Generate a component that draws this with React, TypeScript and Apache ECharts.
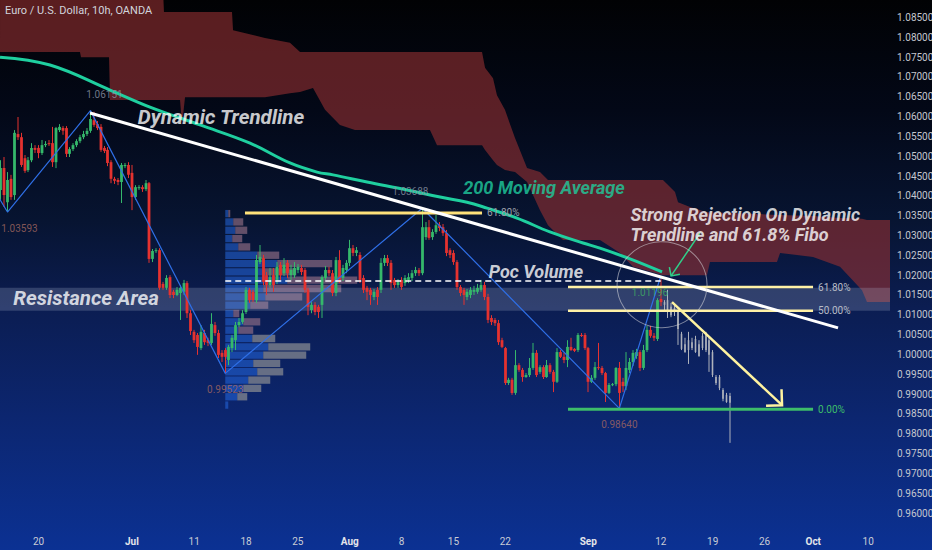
import React, { useEffect, useRef } from 'react';
import * as echarts from 'echarts';

const TITLE = 'Euro / U.S. Dollar, 10h, OANDA';

// Price axis tick labels
const PRICE_TICKS = [0.96, 0.965, 0.97, 0.975, 0.98, 0.985, 0.99, 0.995, 1.0, 1.005, 1.01, 1.015, 1.02, 1.025, 1.03, 1.035, 1.04, 1.045, 1.05, 1.055, 1.06, 1.065, 1.07, 1.075, 1.08, 1.085];

// Time axis: trading days counted from Mon 20 Jun 2022
const DATE_TICK_DAYS = [0, 9, 15, 20, 25, 30, 35, 40, 45, 53, 60, 65, 70, 74.7, 80];
const DATE_TICK_LABELS = ['20', 'Jul', '11', '18', '25', 'Aug', '8', '15', '22', 'Sep', '12', '19', '26', 'Oct', '10'];
const MONTH_LABELS = ['Jul', 'Aug', 'Sep', 'Oct'];

// Candles: [open, close, high, low] in 1/10000 of a dollar
const FIRST_BAR_DAY = -4;
const BARS_PER_DAY = 3;
const GHOST_FROM = 193;
const CANDLES = [
  [10485, 10415, 10503, 10402], [10415, 10470, 10490, 10390], [10470, 10402, 10498, 10372], [10384, 10440, 10460, 10359],
  [10443, 10397, 10453, 10390], [10402, 10559, 10566, 10390], [10556, 10548, 10599, 10541], [10548, 10478, 10559, 10473],
  [10495, 10463, 10503, 10458], [10465, 10490, 10498, 10460], [10490, 10521, 10533, 10485], [10521, 10516, 10528, 10508],
  [10521, 10508, 10528, 10495], [10508, 10528, 10541, 10503], [10528, 10531, 10538, 10523], [10533, 10531, 10541, 10526],
  [10533, 10485, 10574, 10473], [10485, 10571, 10574, 10470], [10566, 10574, 10581, 10561], [10571, 10564, 10576, 10554],
  [10571, 10506, 10576, 10498], [10506, 10518, 10523, 10498], [10518, 10528, 10533, 10513], [10528, 10538, 10543, 10523],
  [10538, 10548, 10554, 10533], [10548, 10556, 10564, 10543], [10556, 10564, 10571, 10551], [10564, 10594, 10615, 10559],
  [10591, 10579, 10612, 10574], [10581, 10571, 10589, 10566], [10574, 10516, 10581, 10511], [10521, 10513, 10526, 10508],
  [10516, 10483, 10523, 10475], [10485, 10443, 10490, 10432], [10443, 10438, 10448, 10430], [10440, 10435, 10445, 10427],
  [10435, 10478, 10483, 10382], [10475, 10478, 10483, 10470], [10478, 10453, 10485, 10445], [10458, 10397, 10478, 10364],
  [10397, 10422, 10427, 10390], [10420, 10422, 10427, 10415], [10422, 10417, 10427, 10410], [10417, 10432, 10440, 10412],
  [10432, 10241, 10435, 10231], [10241, 10261, 10266, 10233], [10261, 10263, 10268, 10256], [10263, 10168, 10268, 10163],
  [10178, 10168, 10183, 10163], [10168, 10193, 10200, 10163], [10195, 10150, 10200, 10142], [10158, 10150, 10163, 10142],
  [10150, 10163, 10170, 10147], [10155, 10168, 10175, 10087], [10158, 10180, 10188, 10150], [10180, 10104, 10185, 10092],
  [10104, 10059, 10112, 10049], [10057, 10036, 10062, 10029], [10049, 10019, 10054, 9999], [10016, 10057, 10074, 10011],
  [10054, 10031, 10062, 10024], [10036, 10029, 10042, 10021], [10029, 10077, 10104, 10024], [10074, 10054, 10082, 10047],
  [10054, 9999, 10062, 9991], [10004, 9994, 10011, 9981], [10011, 9994, 10016, 9952],
  [9986, 10019, 10024, 9973], [10016, 10042, 10049, 10006], [10036, 10074, 10082, 10011], [10074, 10082, 10092, 10069],
  [10082, 10104, 10112, 10077], [10107, 10163, 10170, 10102], [10163, 10137, 10168, 10130], [10158, 10137, 10163, 10132],
  [10137, 10238, 10251, 10130], [10233, 10246, 10276, 10228], [10243, 10183, 10251, 10175], [10200, 10175, 10208, 10150],
  [10175, 10195, 10218, 10168], [10200, 10175, 10218, 10158], [10188, 10221, 10233, 10178], [10226, 10200, 10233, 10188],
  [10205, 10226, 10243, 10198], [10231, 10205, 10238, 10193], [10200, 10213, 10226, 10188], [10200, 10218, 10233, 10193],
  [10213, 10221, 10228, 10205], [10218, 10208, 10226, 10200], [10213, 10163, 10218, 10155], [10163, 10120, 10168, 10099],
  [10112, 10125, 10132, 10104], [10125, 10107, 10132, 10099], [10120, 10107, 10125, 10092], [10125, 10195, 10200, 10092],
  [10193, 10213, 10223, 10188], [10213, 10205, 10221, 10198], [10205, 10155, 10213, 10147], [10155, 10238, 10246, 10147],
  [10238, 10188, 10263, 10180], [10193, 10218, 10226, 10185], [10213, 10231, 10238, 10205], [10231, 10268, 10289, 10223],
  [10268, 10256, 10276, 10248], [10256, 10263, 10271, 10248], [10251, 10188, 10258, 10180], [10193, 10163, 10200, 10155],
  [10168, 10158, 10173, 10137], [10163, 10150, 10168, 10125], [10145, 10158, 10165, 10137], [10163, 10145, 10170, 10125],
  [10163, 10231, 10243, 10155], [10231, 10243, 10251, 10223], [10243, 10231, 10251, 10223], [10231, 10180, 10238, 10163],
  [10188, 10175, 10193, 10168], [10175, 10183, 10190, 10168], [10188, 10170, 10195, 10163], [10180, 10193, 10200, 10173],
  [10188, 10195, 10205, 10180], [10193, 10205, 10213, 10185], [10205, 10213, 10221, 10198], [10213, 10205, 10218, 10198],
  [10205, 10321, 10369, 10200],
  [10296, 10321, 10334, 10289], [10321, 10294, 10339, 10289], [10296, 10309, 10316, 10289], [10309, 10326, 10352, 10304],
  [10326, 10319, 10334, 10311], [10321, 10306, 10329, 10299], [10306, 10256, 10314, 10248], [10263, 10251, 10268, 10243],
  [10256, 10233, 10263, 10226], [10233, 10170, 10238, 10163], [10170, 10155, 10175, 10147], [10163, 10150, 10168, 10125],
  [10145, 10158, 10165, 10137], [10150, 10163, 10170, 10142], [10158, 10163, 10173, 10150], [10158, 10168, 10178, 10153],
  [10163, 10175, 10188, 10158], [10175, 10145, 10183, 10137], [10145, 10087, 10153, 10079], [10092, 10082, 10099, 10074],
  [10087, 10079, 10092, 10072], [10079, 10031, 10087, 10024], [10036, 10019, 10042, 10016], [10016, 9928, 10019, 9923],
  [9928, 9936, 9941, 9923], [9936, 9903, 9941, 9898], [9903, 9973, 10011, 9898], [9973, 9961, 9978, 9956],
  [9961, 9943, 9966, 9931], [9943, 9948, 9953, 9941], [9948, 9966, 9991, 9943], [9966, 10004, 10029, 9961],
  [10004, 9948, 10011, 9943], [9956, 9968, 9973, 9951], [9968, 9943, 9973, 9938], [9943, 9973, 9986, 9941],
  [9973, 9956, 9978, 9951], [9956, 9931, 9961, 9905], [9931, 10006, 10016, 9928], [10006, 9994, 10011, 9991],
  [9994, 9986, 10004, 9978], [9986, 10019, 10036, 9968], [10019, 10011, 10042, 10009], [10014, 10009, 10016, 10006],
  [10011, 10049, 10054, 10006], [10049, 10047, 10054, 10044], [10049, 10016, 10054, 10011], [10016, 9931, 10019, 9905],
  [9931, 9941, 9948, 9928], [9941, 9968, 9981, 9936], [9968, 9966, 10029, 9961], [9966, 9953, 9971, 9948],
  [9953, 9903, 9956, 9880], [9903, 9923, 9928, 9900], [9923, 9925, 9928, 9920], [9925, 9966, 9968, 9920],
  [9966, 9903, 9981, 9864], [9931, 9920, 9941, 9905], [9920, 9966, 10006, 9910],
  [9961, 9981, 9991, 9953], [9981, 10004, 10011, 9971], [9996, 10006, 10014, 9989], [10006, 9966, 10011, 9958],
  [9966, 10011, 10024, 9961], [10011, 10062, 10072, 10006], [10062, 10047, 10072, 10042], [10047, 10042, 10054, 10034],
  [10039, 10137, 10142, 10034], [10140, 10132, 10198, 10122],
  [10132, 10125, 10137, 10107], [10137, 10112, 10163, 10092], [10120, 10099, 10130, 10094], [10117, 10107, 10125, 10097],
  [10107, 10064, 10112, 10024], [10052, 10014, 10057, 10011], [10026, 10006, 10042, 10004], [10011, 10036, 10057, 9976],
  [10031, 10016, 10042, 10011], [10006, 10039, 10047, 10004], [10026, 9996, 10036, 9994], [10016, 10047, 10054, 10011],
  [10049, 10011, 10057, 10006], [10036, 9999, 10044, 9956], [10006, 9948, 10011, 9943], [9943, 9928, 9948, 9923],
  [9943, 9915, 9948, 9910], [9910, 9888, 9915, 9882], [9898, 9880, 9903, 9878], [9895, 9878, 9903, 9777],
];

// Ichimoku cloud (senkou spans), 1/10000 of a dollar
const CLOUD_DAY = [-3.72, 3.99, 4.09, 6.79, 6.89, 12.0, 12.09, 13.64, 13.83, 14.12, 18.65, 18.75, 21.83, 24.24, 25.21, 26.46, 27.62, 29.06, 30.51, 37.74, 38.42, 42.76, 43.05, 43.82, 44.2, 44.97, 45.94, 47.1, 48.35, 49.12, 50.57, 54.13, 56.07, 57.32, 60.21, 61.37, 61.66, 62.82, 64.45, 64.74, 71.2, 71.5, 74.68, 77.28, 79.4, 79.88, 82.1];
const CLOUD_TOP = [10919, 10919, 10919, 10919, 10919, 10919, 10864, 10864, 10864, 10864, 10864, 10818, 10798, 10786, 10763, 10763, 10763, 10763, 10763, 10763, 10763, 10763, 10723, 10697, 10654, 10617, 10546, 10470, 10460, 10440, 10440, 10440, 10440, 10440, 10440, 10410, 10384, 10372, 10359, 10359, 10352, 10352, 10349, 10344, 10342, 10339, 10339];
const CLOUD_BOTTOM = [10763, 10763, 10750, 10750, 10642, 10642, 10642, 10642, 10579, 10649, 10649, 10649, 10649, 10659, 10662, 10672, 10617, 10579, 10566, 10566, 10528, 10528, 10516, 10490, 10478, 10465, 10460, 10435, 10364, 10326, 10289, 10289, 10256, 10221, 10200, 10200, 10200, 10200, 10200, 10233, 10233, 10256, 10246, 10221, 10162, 10132, 10132];

// 200 moving average
const MA_DAY = [-3.72, 1.1, 6.89, 10.74, 15.56, 20.39, 24.24, 26.85, 28.39, 31.67, 35.53, 38.71, 41.31, 43.24, 46.13, 49.3, 52.5, 54.13, 57.03, 60.12];
const MA_PRICE = [1.075, 1.073, 1.0667, 1.0624, 1.0579, 1.0533, 1.0483, 1.046, 1.0453, 1.0435, 1.0415, 1.0397, 1.0384, 1.0369, 1.0344, 1.0309, 1.0281, 1.0268, 1.0241, 1.0208];

// ZigZag pivots
const ZIGZAG_DAY = [-4.4, -3, 5, 18, 37, 56, 60];
const ZIGZAG_PRICE = [1.042, 1.03593, 1.06151, 0.99523, 1.03688, 0.9864, 1.0198];

// Drawings
const TREND_DAY = [4.96, 77.09];
const TREND_PRICE = [1.0609, 1.0067];
const POC_DAY = [18.0, 60.0];
const POC_PRICE = 1.0185;
const FIB_LEFT_DAY = [19.9, 42.76];
const FIB_LEFT_PRICE = 1.0357;
const FIB_LEFT_LABEL = '61.80%';
const FIB_RIGHT_DAY = [51.05, 74.68];
const FIB_RIGHT_PRICE = [1.017, 1.011, 0.9862];
const FIB_RIGHT_LABEL = ['61.80%', '50.00%', '0.00%'];
const RESIST_TOP = 1.0168;
const RESIST_BOTTOM = 1.011;
const REJECT_CIRCLE = [60.12, 1.0176];
const ARROWS = [
  [61.08, 1.0132, 71.69, 0.9872],
  [63.78, 1.0306, 60.99, 1.0198],
];
const LAST_PIVOT_NOTE = { text: '1.01196', day: 58.96, price: 1.0157 };

// Fixed-range volume profile
const VP_START_DAY = 18.0;
const VP_ROW = 0.0021;
const VP_PRICE = [1.0354, 1.0333, 1.0312, 1.0291, 1.027, 1.0249, 1.0228, 1.0207, 1.0186, 1.0165, 1.0144, 1.0123, 1.0102, 1.0081, 1.006, 1.0039, 1.0018, 0.9997, 0.9976, 0.9955, 0.9934, 0.9913, 0.9892, 0.9871];
const VP_UP = [3, 8, 10, 7, 13, 32, 52, 38, 62, 38, 40, 25, 8, 18, 13, 27, 43, 38, 28, 32, 23, 18, 12, 3];
const VP_DOWN = [2, 10, 12, 10, 12, 22, 55, 33, 70, 78, 37, 18, 6, 17, 15, 23, 42, 43, 27, 26, 22, 18, 10, 0];
const VP_GRAY_BELOW = 1.005;

// Annotations
const NOTES = [
  { text: 'Dynamic Trendline', day: 17.59, price: 1.0599, kind: 'big' },
  { text: '200 Moving Average', day: 48.74, price: 1.042, kind: 'teal' },
  { text: 'Poc Volume', day: 47.96, price: 1.0208, kind: 'white' },
  { text: 'Resistance Area', day: 4.58, price: 1.0142, kind: 'big' },
  { text: 'Strong Rejection On Dynamic\nTrendline and 61.8% Fibo', day: 57.03, price: 1.0328, kind: 'left' },
];

// layout constants
const X_MIN = -3.722;
const X_MAX = 82.1;
const Y_MIN = 0.95622;
const Y_MAX = 1.08941;
const VP_DAYS_PER_UNIT = 0.0964;
const UP = '#35b86b';
const DOWN = '#e5322f';
const GHOST = '#aeb2bb';
const FONT = 'Roboto, "Noto Sans", sans-serif';
const PIVOT_LABEL_SHIFT: Record<number, number> = { 1: 12, 2: 14, 4: -12 };

export default function App() {
  const ref = useRef<HTMLDivElement>(null);
  useEffect(() => {
    if (!ref.current) return;
    const chart = echarts.init(ref.current, null, { renderer: 'svg' });

    const candleData = CANDLES.map((c, i) => [FIRST_BAR_DAY + i / BARS_PER_DAY, c[0] / 1e4, c[1] / 1e4, c[2] / 1e4, c[3] / 1e4, i]);
    const vpData = VP_PRICE.map((p, k) => [VP_START_DAY, p, VP_UP[k], VP_DOWN[k]]);

    const pivotLabels = ZIGZAG_PRICE.map((p, k) => {
      if (k === 0 || k === ZIGZAG_PRICE.length - 1) return null;
      const high = p > ZIGZAG_PRICE[k - 1] && p > ZIGZAG_PRICE[k + 1];
      return {
        value: [ZIGZAG_DAY[k], p],
        label: {
          show: true,
          position: high ? 'top' : 'bottom',
          distance: 11,
          offset: [PIVOT_LABEL_SHIFT[k] || 0, 0],
          formatter: p.toFixed(5),
          color: high ? '#8b93a5' : '#a4675f',
          fontSize: 10,
          fontFamily: FONT,
        },
      };
    }).filter(Boolean);

    const noteStyle = (kind: string) => {
      const base: any = { show: true, fontStyle: 'italic', fontWeight: 'bold', fontFamily: FONT, color: '#ffffff', fontSize: 18, position: 'inside' };
      if (kind === 'big') return { ...base, fontSize: 20.5 };
      if (kind === 'teal') return { ...base, color: '#1fcf9f', fontSize: 18 };
      if (kind === 'left') return { ...base, fontSize: 18, lineHeight: 20, position: 'right', distance: 0, align: 'left' };
      return base;
    };
    const notes: any[] = NOTES.map((n) => ({ value: [n.day, n.price], label: { ...noteStyle(n.kind), formatter: n.text } }));
    notes.push({
      value: [LAST_PIVOT_NOTE.day, LAST_PIVOT_NOTE.price],
      label: { show: true, position: 'inside', formatter: LAST_PIVOT_NOTE.text, color: '#3fae62', fontSize: 10, fontFamily: FONT },
    });

    const arrowStyle = [
      { stroke: '#fff3a0', lineWidth: 2.5, head: 16 },
      { stroke: '#2fd08a', lineWidth: 1.5, head: 9 },
    ];

    const hline = (name: string, days: number[], price: number, color: string, width: number, label: string | null, labelColor: string, z: number, dashed = false) => ({
      type: 'line',
      name,
      z,
      data: [[days[0], price], [days[1], price]],
      symbol: 'none',
      silent: true,
      lineStyle: { color, width, type: dashed ? [6, 4] : 'solid' },
      endLabel: label
        ? { show: true, formatter: () => label, color: labelColor, fontSize: 10, fontFamily: FONT, distance: 5 }
        : { show: false },
    });

    const option: any = {
      animation: false,
      backgroundColor: 'transparent',
      grid: { left: 0, right: 42, top: 0, bottom: 22, containLabel: false, outerBoundsMode: 'none' },
      xAxis: {
        type: 'value',
        min: X_MIN,
        max: X_MAX,
        axisLine: { show: false },
        axisTick: { show: false },
        splitLine: { show: false },
        axisLabel: {
          customValues: DATE_TICK_DAYS,
          margin: 8,
          color: '#c9ccd4',
          fontSize: 10,
          fontFamily: FONT,
          formatter: (v: number) => {
            const k = DATE_TICK_DAYS.findIndex((d) => Math.abs(d - v) < 0.01);
            if (k < 0) return '';
            const t = DATE_TICK_LABELS[k];
            return MONTH_LABELS.includes(t) ? '{m|' + t + '}' : t;
          },
          rich: { m: { fontWeight: 'bold', color: '#e3e5ea', fontSize: 10, fontFamily: FONT } },
        },
      },
      yAxis: {
        type: 'value',
        position: 'right',
        min: Y_MIN,
        max: Y_MAX,
        axisLine: { show: false },
        axisTick: { show: false },
        splitLine: { show: false },
        axisLabel: {
          customValues: PRICE_TICKS,
          margin: 7,
          color: '#c3c6ce',
          fontSize: 10,
          fontFamily: FONT,
          formatter: (v: number) => v.toFixed(5),
        },
      },
      graphic: [
        { type: 'text', left: 5, top: 5, z: 100, style: { text: TITLE, fill: '#d1d4dc', font: '11px ' + FONT } },
      ],
      series: [
        {
          type: 'custom',
          name: 'cloud',
          z: 1,
          silent: true,
          data: [[CLOUD_DAY[0], CLOUD_TOP[0] / 1e4]],
          renderItem: (_p: any, api: any) => {
            const top = CLOUD_DAY.map((d, k) => api.coord([d, CLOUD_TOP[k] / 1e4]));
            const bot = CLOUD_DAY.map((d, k) => api.coord([d, CLOUD_BOTTOM[k] / 1e4])).reverse();
            return { type: 'polygon', shape: { points: top.concat(bot) }, style: { fill: 'rgba(150,48,50,0.6)' } };
          },
        },
        {
          type: 'custom',
          name: 'volume profile',
          z: 2,
          silent: true,
          data: vpData,
          renderItem: (_p: any, api: any) => {
            const x = api.value(0), p = api.value(1), up = api.value(2), dn = api.value(3);
            const yTop = api.coord([x, p + VP_ROW / 2])[1];
            const yBot = api.coord([x, p - VP_ROW / 2])[1];
            const x0 = api.coord([x, p])[0];
            const x1 = api.coord([x + up * VP_DAYS_PER_UNIT, p])[0];
            const x2 = api.coord([x + (up + dn) * VP_DAYS_PER_UNIT, p])[0];
            const h = Math.max(1, yBot - yTop - 1);
            const downColor = p < VP_GRAY_BELOW ? 'rgba(128,132,142,0.78)' : 'rgba(160,118,140,0.6)';
            return {
              type: 'group',
              children: [
                { type: 'rect', shape: { x: x0, y: yTop, width: x1 - x0, height: h }, style: { fill: 'rgba(36,104,224,0.55)' } },
                { type: 'rect', shape: { x: x1, y: yTop, width: x2 - x1, height: h }, style: { fill: downColor } },
              ],
            };
          },
        },
        {
          type: 'custom',
          name: 'resistance',
          z: 3,
          silent: true,
          data: [[X_MIN, RESIST_TOP, X_MAX, RESIST_BOTTOM]],
          renderItem: (_p: any, api: any) => {
            const a = api.coord([api.value(0), api.value(1)]);
            const b = api.coord([api.value(2), api.value(3)]);
            return { type: 'rect', shape: { x: a[0], y: a[1], width: b[0] - a[0], height: b[1] - a[1] }, style: { fill: 'rgba(185,195,225,0.22)' } };
          },
        },
        {
          type: 'line',
          name: 'MA 200',
          z: 4,
          silent: true,
          data: MA_DAY.map((d, k) => [d, MA_PRICE[k]]),
          smooth: 0.4,
          symbol: 'none',
          lineStyle: { color: '#1fcf9f', width: 3 },
        },
        {
          type: 'custom',
          name: 'EURUSD',
          z: 5,
          silent: true,
          data: candleData,
          renderItem: (_p: any, api: any) => {
            const x = api.value(0), o = api.value(1), c = api.value(2), h = api.value(3), l = api.value(4), i = api.value(5);
            const pO = api.coord([x, o]);
            const pC = api.coord([x, c]);
            const pH = api.coord([x, h]);
            const pL = api.coord([x, l]);
            const ghost = i >= GHOST_FROM;
            const color = ghost ? GHOST : c >= o ? UP : DOWN;
            const w = ghost ? 1.6 : 2.8;
            const top = Math.min(pO[1], pC[1]);
            const hh = Math.max(1, Math.abs(pO[1] - pC[1]));
            const cx = Math.round(pO[0] * 2) / 2;
            return {
              type: 'group',
              children: [
                { type: 'line', shape: { x1: cx, y1: pH[1], x2: cx, y2: pL[1] }, style: { stroke: color, lineWidth: 1 } },
                { type: 'rect', shape: { x: cx - w / 2, y: top, width: w, height: hh }, style: { fill: color } },
              ],
            };
          },
        },
        {
          type: 'line',
          name: 'zigzag',
          z: 6,
          silent: true,
          data: ZIGZAG_DAY.map((d, k) => [d, ZIGZAG_PRICE[k]]),
          symbol: 'none',
          lineStyle: { color: '#2f6fe6', width: 1.2 },
        },
        {
          type: 'scatter',
          name: 'pivot labels',
          z: 6,
          silent: true,
          symbolSize: 1,
          itemStyle: { color: 'rgba(0,0,0,0)' },
          data: pivotLabels,
        },
        hline('poc', POC_DAY, POC_PRICE, '#ffffff', 1.5, null, '', 7, true),
        hline('fib left', FIB_LEFT_DAY, FIB_LEFT_PRICE, '#ffe27a', 3, FIB_LEFT_LABEL, '#9ea2ab', 7),
        ...FIB_RIGHT_PRICE.map((p, k) =>
          hline('fib right ' + k, FIB_RIGHT_DAY, p, k === 2 ? '#3dbd6a' : '#fff1a6', k === 2 ? 3 : 2.5, FIB_RIGHT_LABEL[k], k === 2 ? '#3dbd6a' : '#b8bcc6', 7)
        ),
        {
          type: 'line',
          name: 'trendline',
          z: 8,
          silent: true,
          data: TREND_DAY.map((d, k) => [d, TREND_PRICE[k]]),
          symbol: 'none',
          lineStyle: { color: '#ffffff', width: 3 },
        },
        {
          type: 'custom',
          name: 'arrows',
          z: 9,
          silent: true,
          data: ARROWS,
          renderItem: (params: any, api: any) => {
            const st = arrowStyle[params.dataIndex];
            const a = api.coord([api.value(0), api.value(1)]);
            const b = api.coord([api.value(2), api.value(3)]);
            const ang = Math.atan2(b[1] - a[1], b[0] - a[0]);
            const s = Math.PI / 4;
            const h1 = [b[0] - st.head * Math.cos(ang - s), b[1] - st.head * Math.sin(ang - s)];
            const h2 = [b[0] - st.head * Math.cos(ang + s), b[1] - st.head * Math.sin(ang + s)];
            return {
              type: 'group',
              children: [
                { type: 'line', shape: { x1: a[0], y1: a[1], x2: b[0], y2: b[1] }, style: { stroke: st.stroke, lineWidth: st.lineWidth } },
                { type: 'polyline', shape: { points: [h1, b, h2] }, style: { stroke: st.stroke, lineWidth: st.lineWidth, fill: 'none' } },
              ],
            };
          },
        },
        {
          type: 'scatter',
          name: 'rejection',
          z: 9,
          silent: true,
          symbol: 'circle',
          symbolSize: [90, 86],
          itemStyle: { color: 'rgba(0,0,0,0)', borderColor: 'rgba(215,215,220,0.7)', borderWidth: 1 },
          data: [REJECT_CIRCLE],
        },
        {
          type: 'scatter',
          name: 'notes',
          z: 10,
          silent: true,
          symbolSize: 1,
          itemStyle: { color: 'rgba(0,0,0,0)' },
          data: notes,
        },
      ],
    };
    chart.setOption(option);
    return () => chart.dispose();
  }, []);

  return (
    <div
      ref={ref}
      style={{
        position: 'fixed',
        left: 0,
        top: 0,
        width: 932,
        height: 550,
        background: 'linear-gradient(180deg, #010204 0%, #030817 20%, #071431 40%, #0b1d52 56%, #0c2670 76%, #0b3193 100%)',
      }}
    />
  );
}
